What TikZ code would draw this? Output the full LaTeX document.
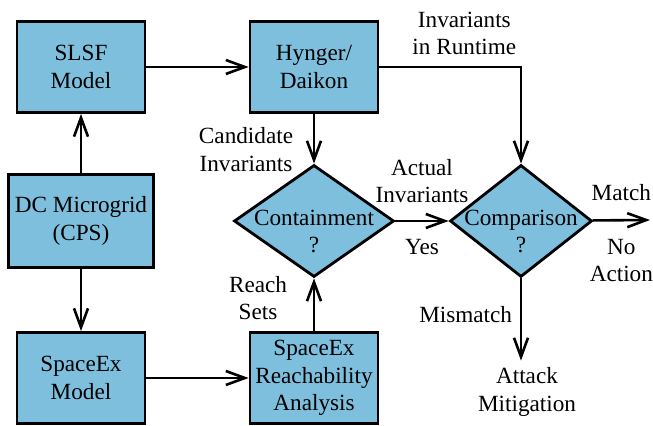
\documentclass[tikz,border=0pt]{standalone}
\usepackage{fontspec}
\setmainfont{Liberation Serif}
\usetikzlibrary{positioning, arrows.meta, shapes.geometric}
\definecolor{boxblue}{RGB}{126,191,221}

\begin{document}
\begin{tikzpicture}[x=0.5pt, y=-0.5pt, node distance=77pt,
    font=\fontsize{11.6}{13.8}\selectfont,
    block/.style={draw, rectangle, fill=boxblue, line width=1.4pt, align=center,
        minimum width=64pt, minimum height=45.5pt, inner sep=2pt},
    decision/.style={draw, diamond, fill=boxblue, line width=1.4pt, align=center,
        inner xsep=-25pt, inner ysep=-17pt, minimum height=56pt},
    arr/.style={-{Straight Barb[length=9.5pt, width=7pt]}, line width=1.3pt}]
    \useasboundingbox (0,0) rectangle (653,426);

    % Models
    \node[block] (slsf) at (81,67) {SLSF\\Model};
    \node[block, below of=slsf, minimum width=72.5pt, minimum height=46.5pt] (dc) {DC Microgrid\\(CPS)};
    \node[block, below of=dc, yshift=-1.5pt] (spaceex) {SpaceEx\\Model};

    % Tools
    \node[block, right of=slsf, xshift=39.5pt] (hynger) {Hynger/\\Daikon};
    \node[block, right of=spaceex, xshift=39.5pt] (reach) {SpaceEx\\Reachability\\Analysis};

    % Checks (strut pushes the text below the middle)
    \node[decision, below of=hynger, minimum width=80pt] (contain) {\rule{0pt}{18pt}Containment\\?};
    \node[decision, right of=contain, xshift=26.5pt, minimum width=71pt] (compare) {\rule{0pt}{18pt}Comparison\\?};
    \coordinate (match) at (650,220);
    \node[align=center] (mitig) at (527,392) {Attack\\Mitigation};

    % Flow
    \draw[arr] (dc) -- (slsf);
    \draw[arr] (dc) -- (spaceex);
    \draw[arr] (slsf) -- (hynger);
    \draw[arr] (spaceex) -- (reach);
    \draw[arr] (hynger) -- node[pos=.72, left=6.5pt, align=center] {Candidate\\Invariants} (contain);
    \draw[arr] (reach) -- node[pos=.63, left=9.5pt, align=center] {Reach\\Sets} (contain);
    \draw[arr] (hynger) -| node[pos=.3, above=2pt, align=center] {Invariants\\in Runtime} (compare);
    \draw[arr] (contain) -- node[above=5pt, align=center] {Actual\\Invariants} node[below=5pt] {Yes} (compare);
    \draw[arr] (compare) -- node[above=6pt] {Match} node[below=5.5pt, align=center] {No\\Action} (match);
    \draw[arr] (compare) -- node[pos=.44, left=.5pt] {Mismatch} (compare |- mitig.north);
\end{tikzpicture}
\end{document}
